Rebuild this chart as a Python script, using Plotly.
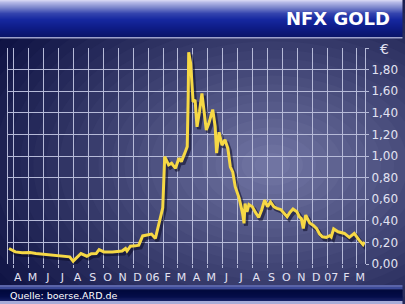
import plotly.graph_objects as go
import pandas as pd

# ---------------- data ----------------
dates = [
    "2005-03-22", "2005-04-04", "2005-04-18", "2005-05-04", "2005-05-16",
    "2005-05-31", "2005-06-24", "2005-07-17", "2005-07-24", "2005-07-31",
    "2005-08-16", "2005-08-28", "2005-09-06", "2005-09-16", "2005-09-22",
    "2005-10-02", "2005-10-19", "2005-11-08", "2005-11-15", "2005-11-18",
    "2005-11-25", "2005-12-05", "2005-12-12", "2005-12-20", "2006-01-02",
    "2006-01-07", "2006-01-15", "2006-01-21", "2006-01-28", "2006-01-30",
    "2006-02-03", "2006-02-11", "2006-02-17", "2006-02-25", "2006-03-04",
    "2006-03-09", "2006-03-16", "2006-03-21", "2006-03-23", "2006-03-24",
    "2006-03-28", "2006-03-31", "2006-04-02", "2006-04-06", "2006-04-10",
    "2006-04-15", "2006-04-20", "2006-04-24", "2006-04-29", "2006-05-04",
    "2006-05-08", "2006-05-12", "2006-05-17", "2006-05-20", "2006-05-25",
    "2006-05-31", "2006-06-06", "2006-06-12", "2006-06-17", "2006-06-22",
    "2006-06-27", "2006-07-05", "2006-07-12", "2006-07-15", "2006-07-17",
    "2006-07-21", "2006-07-25", "2006-08-01", "2006-08-07", "2006-08-14",
    "2006-08-20", "2006-08-26", "2006-09-01", "2006-09-07", "2006-09-14",
    "2006-09-20", "2006-09-28", "2006-10-05", "2006-10-11", "2006-10-17",
    "2006-10-23", "2006-10-31", "2006-11-05", "2006-11-09", "2006-11-13",
    "2006-11-18", "2006-11-26", "2006-12-03", "2006-12-10", "2006-12-16",
    "2006-12-22", "2006-12-30", "2007-01-06", "2007-01-09", "2007-01-14",
    "2007-01-23", "2007-01-29", "2007-02-05", "2007-02-15", "2007-02-25",
    "2007-03-07", "2007-03-15", "2007-03-18",
]
values = [
    0.144, 0.112, 0.105, 0.107, 0.098,
    0.091, 0.082, 0.075, 0.066, 0.026,
    0.097, 0.072, 0.095, 0.097, 0.134,
    0.112, 0.112, 0.120, 0.144, 0.120,
    0.165, 0.168, 0.175, 0.260, 0.274,
    0.277, 0.237, 0.345, 0.469, 0.520,
    0.994, 0.917, 0.933, 0.887, 0.980,
    0.948, 1.026, 1.087, 1.550, 1.960,
    1.860, 1.676, 1.500, 1.520, 1.270,
    1.410, 1.580, 1.430, 1.240, 1.300,
    1.366, 1.430, 1.273, 1.026, 1.220,
    1.100, 1.150, 1.070, 0.900, 0.850,
    0.716, 0.610, 0.469, 0.376, 0.560,
    0.484, 0.550, 0.530, 0.480, 0.430,
    0.500, 0.592, 0.530, 0.575, 0.530,
    0.515, 0.505, 0.470, 0.437, 0.480,
    0.510, 0.484, 0.437, 0.420, 0.330,
    0.453, 0.380, 0.360, 0.330, 0.280,
    0.252, 0.246, 0.262, 0.250, 0.325,
    0.298, 0.290, 0.283, 0.246, 0.283,
    0.221, 0.180, 0.205,
]
month_ticks = [d.strftime("%Y-%m-%d") for d in pd.date_range("2005-04-01", "2007-03-01", freq="MS")]
month_labels = ["A", "M", "J", "J", "A", "S", "O", "N", "D", "06", "F", "M",
                "A", "M", "J", "J", "A", "S", "O", "N", "D", "07", "F", "M"]
y_ticks = [0.0, 0.2, 0.4, 0.6, 0.8, 1.0, 1.2, 1.4, 1.6, 1.8, 2.0]
y_labels = ["0,00", "0,20", "0,40", "0,60", "0,80", "1,00", "1,20", "1,40", "1,60", "1,80", ""]
title_text = "NFX GOLD"
currency_text = "€"
source_text = "Quelle: boerse.ARD.de"

# ---------------- geometry helpers ----------------
W, H = 405, 304
L, R, T, B = 7, 36, 48, 40
PW, PH = W - L - R, H - T - B


def px(x):
    return (x - L) / PW


def py(y):
    return (H - B - y) / PH


def hex2rgb(h):
    h = h.lstrip("#")
    return tuple(int(h[i:i + 2], 16) for i in (0, 2, 4))


def lerp(c1, c2, t):
    a, b = hex2rgb(c1), hex2rgb(c2)
    return "rgb(%d,%d,%d)" % tuple(round(a[i] + (b[i] - a[i]) * t) for i in range(3))


def band(y0, y1, color):
    return dict(type="rect", xref="paper", yref="paper", layer="below",
                x0=px(-2), x1=px(W + 2), y0=py(y1), y1=py(y0),
                fillcolor=color, line=dict(width=0))


shapes = []
# radial-ish background glow
N = 26
outer, inner = "#0d1142", "#7074a2"
cx, cy = 275, 165
for i in range(N):
    t = i / (N - 1)
    rx = 330 * (1 - t) + 18
    ry = 215 * (1 - t) + 12
    shapes.append(dict(type="circle", xref="paper", yref="paper", layer="below",
                       x0=px(cx - rx), x1=px(cx + rx), y0=py(cy + ry), y1=py(cy - ry),
                       fillcolor=lerp(outer, inner, t ** 1.1), line=dict(width=0)))

# header gradient
stops = [(0, "#d4d4f2"), (2, "#b4b8e6"), (7, "#7c86cc"), (13, "#3444ae"),
         (19, "#1628a0"), (27, "#0e1c88"), (37, "#0a1466")]
for k in range(len(stops) - 1):
    y0, c0 = stops[k]
    y1, c1 = stops[k + 1]
    n = max(1, y1 - y0)
    for j in range(n):
        shapes.append(band(y0 + j, y0 + j + 1, lerp(c0, c1, j / n)))
shapes.append(band(37, 38.5, "#9ea2cc"))

# footer
shapes.append(band(285, 287, "#5a64a8"))
shapes.append(band(287, 289.5, "#3c4a98"))
fstops = [(289.5, "#020a3c"), (296, "#040c48"), (301, "#18226a")]
for k in range(len(fstops) - 1):
    y0, c0 = fstops[k]
    y1, c1 = fstops[k + 1]
    steps = 6
    for j in range(steps):
        shapes.append(band(y0 + (y1 - y0) * j / steps, y0 + (y1 - y0) * (j + 1) / steps + 0.3,
                           lerp(c0, c1, j / steps)))
shapes.append(band(301, 304, "#a8acd8"))

GRID = "#b6bad8"
TXT = "#e2e2f2"
FONT = "DejaVu Sans"

fig = go.Figure()
shadow_x = (pd.to_datetime(dates) + pd.Timedelta(days=4)).strftime("%Y-%m-%d").tolist()
shadow_y = [v - 0.022 for v in values]
fig.add_trace(go.Scatter(x=shadow_x, y=shadow_y, mode="lines",
                         line=dict(color="rgba(10,10,35,0.55)", width=4),
                         hoverinfo="skip", showlegend=False))
fig.add_trace(go.Scatter(x=dates, y=values, mode="lines",
                         line=dict(color="#f6d845", width=3),
                         showlegend=False))

fig.update_layout(
    width=W, height=H,
    margin=dict(l=L, r=R, t=T, b=B, pad=0),
    paper_bgcolor="#0d1142",
    plot_bgcolor="rgba(0,0,0,0)",
    shapes=shapes,
    showlegend=False,
    xaxis=dict(
        type="date",
        range=["2005-03-20", "2007-03-19"],
        tickmode="array", tickvals=month_ticks, ticktext=month_labels,
        showgrid=True, gridcolor=GRID, gridwidth=1,
        ticks="outside", ticklen=3, tickcolor=GRID, tickwidth=1,
        ticklabelshift=4,
        tickfont=dict(family=FONT, size=11, color=TXT),
        showline=False, zeroline=False, fixedrange=True,
    ),
    yaxis=dict(
        range=[0, 2.0], side="right",
        tickmode="array", tickvals=y_ticks, ticktext=y_labels,
        showgrid=True, gridcolor=GRID, gridwidth=1,
        zeroline=True, zerolinecolor="rgba(0,0,0,0)",
        ticks="outside", ticklen=3, tickcolor=GRID, tickwidth=1,
        tickfont=dict(family=FONT, size=12, color=TXT),
        showline=True, linecolor=GRID, linewidth=1, mirror=True,
        fixedrange=True,
    ),
    annotations=[
        dict(text="<b>%s</b>" % title_text, xref="paper", yref="paper",
             x=px(396), y=py(19), xanchor="right", yanchor="middle",
             showarrow=False, font=dict(family=FONT, size=18, color="#ffffff")),
        dict(text=currency_text, xref="paper", yref="paper",
             x=px(389), y=py(49), xanchor="center", yanchor="middle",
             showarrow=False, font=dict(family=FONT, size=14, color=TXT)),
        dict(text=source_text, xref="paper", yref="paper",
             x=px(7), y=py(295.5), xanchor="left", yanchor="middle",
             showarrow=False, font=dict(family=FONT, size=9.5, color="#ffffff")),
    ],
)

fig.write_html("out.html")
